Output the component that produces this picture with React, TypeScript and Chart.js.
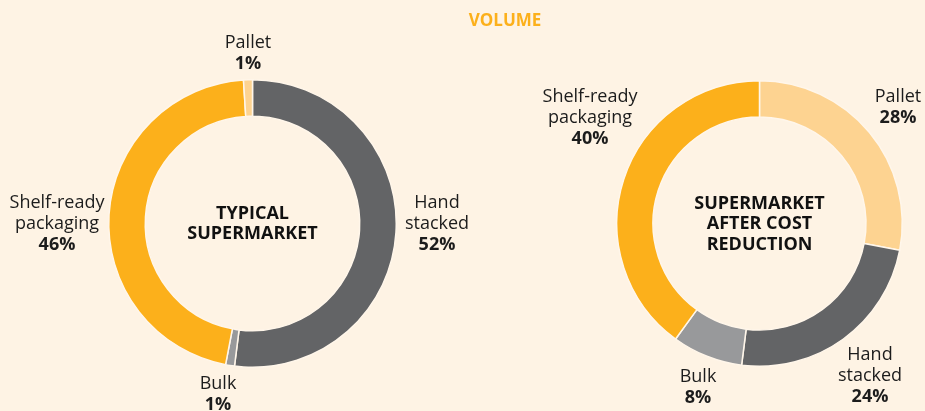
import React, { useEffect, useRef } from "react";
import { Chart, registerables } from "chart.js";

Chart.register(...registerables);

// ---- data ----
const typicalCategories = ["Hand stacked", "Bulk", "Shelf-ready packaging", "Pallet"];
const typicalValues = [52, 1, 46, 1];
const reducedCategories = ["Pallet", "Hand stacked", "Bulk", "Shelf-ready packaging"];
const reducedValues = [28, 24, 8, 40];
const typicalCenterLines = ["TYPICAL", "SUPERMARKET"];
const reducedCenterLines = ["SUPERMARKET", "AFTER COST", "REDUCTION"];
const titleText = "VOLUME";

// ---- styles / layout ----
const BG = "#fef3e4";
const FONT = "'Open Sans', 'Noto Sans', sans-serif";
const colorFor: Record<string, string> = {
  "Hand stacked": "#636466",
  Bulk: "#98999b",
  "Shelf-ready packaging": "#fcb01b",
  Pallet: "#fdd391",
};
const linesFor: Record<string, string[]> = {
  "Hand stacked": ["Hand", "stacked"],
  Bulk: ["Bulk"],
  "Shelf-ready packaging": ["Shelf-ready", "packaging"],
  Pallet: ["Pallet"],
};
// label block centre offsets relative to doughnut centre
const typicalLabelOffsets = [
  [184.5, 0.5],
  [-34.5, 171],
  [-195.5, 0.5],
  [-4.5, -170.5],
];
const reducedLabelOffsets = [
  [138.5, -116],
  [110.5, 152.5],
  [-61.5, 163.5],
  [-169.5, -105.5],
];

const labelPlugin = {
  id: "donutLabels",
  afterDraw(chart: any) {
    const opts = chart.options.plugins.donutLabels;
    const meta = chart.getDatasetMeta(0);
    const arc: any = meta.data[0];
    if (!arc) return;
    const cx = arc.x;
    const cy = arc.y;
    const ctx = chart.ctx;
    ctx.save();
    ctx.textAlign = "center";
    ctx.textBaseline = "middle";
    const lh = 21;
    const cats: string[] = chart.data.labels;
    const vals: number[] = chart.data.datasets[0].data;
    cats.forEach((c, i) => {
      const lines = [...linesFor[c], vals[i] + "%"];
      const [dx, dy] = opts.offsets[i];
      const n = lines.length;
      lines.forEach((t, j) => {
        const y = cy + dy + (j - (n - 1) / 2) * lh;
        const isVal = j === n - 1;
        ctx.font = (isVal ? "bold " : "") + "18px " + FONT;
        ctx.fillStyle = "#1c1c1c";
        ctx.fillText(t, cx + dx, y);
      });
    });
    const center: string[] = opts.center;
    const clh = 20.5;
    center.forEach((t, j) => {
      const y = cy + 0.5 + (j - (center.length - 1) / 2) * clh;
      ctx.font = "bold 18px " + FONT;
      ctx.fillStyle = "#111111";
      ctx.fillText(t, cx, y);
    });
    ctx.restore();
  },
};

function Donut(props: {
  cats: string[];
  vals: number[];
  offsets: number[][];
  center: string[];
  padding: { left: number; right: number; top: number; bottom: number };
  left: number;
  width: number;
}) {
  const ref = useRef<HTMLCanvasElement | null>(null);
  useEffect(() => {
    if (!ref.current) return;
    const chart = new Chart(ref.current, {
      type: "doughnut",
      data: {
        labels: props.cats,
        datasets: [
          {
            data: props.vals,
            backgroundColor: props.cats.map((c) => colorFor[c]),
            borderColor: "#fff6ea",
            borderWidth: 1.5,
            hoverOffset: 0,
          },
        ],
      },
      options: {
        animation: false,
        responsive: false,
        cutout: "74.6%",
        layout: { padding: props.padding },
        plugins: {
          legend: { display: false },
          tooltip: { enabled: false },
          // @ts-ignore
          donutLabels: { offsets: props.offsets, center: props.center },
        },
      },
      plugins: [labelPlugin],
    });
    return () => chart.destroy();
  }, []);
  return (
    <canvas
      ref={ref}
      width={props.width}
      height={411}
      style={{ position: "absolute", left: props.left, top: 0, width: props.width, height: 411 }}
    />
  );
}

export default function App() {
  useEffect(() => {
    document.body.style.margin = "0";
    document.body.style.background = BG;
  }, []);
  return (
    <div style={{ position: "relative", width: 925, height: 411, background: BG, overflow: "hidden" }}>
      <Donut
        cats={typicalCategories}
        vals={typicalValues}
        offsets={typicalLabelOffsets}
        center={typicalCenterLines}
        padding={{ left: 108, right: 108, top: 79, bottom: 43 }}
        left={0}
        width={505}
      />
      <Donut
        cats={reducedCategories}
        vals={reducedValues}
        offsets={reducedLabelOffsets}
        center={reducedCenterLines}
        padding={{ left: 111, right: 22, top: 80, bottom: 44 }}
        left={505}
        width={420}
      />
      <div
        style={{
          position: "absolute",
          left: 0,
          width: 1010,
          top: 9,
          textAlign: "center",
          fontFamily: FONT,
          fontWeight: 700,
          fontSize: 17,
          lineHeight: "22px",
          color: "#fcb01b",
          letterSpacing: 0,
        }}
      >
        {titleText}
      </div>
    </div>
  );
}
